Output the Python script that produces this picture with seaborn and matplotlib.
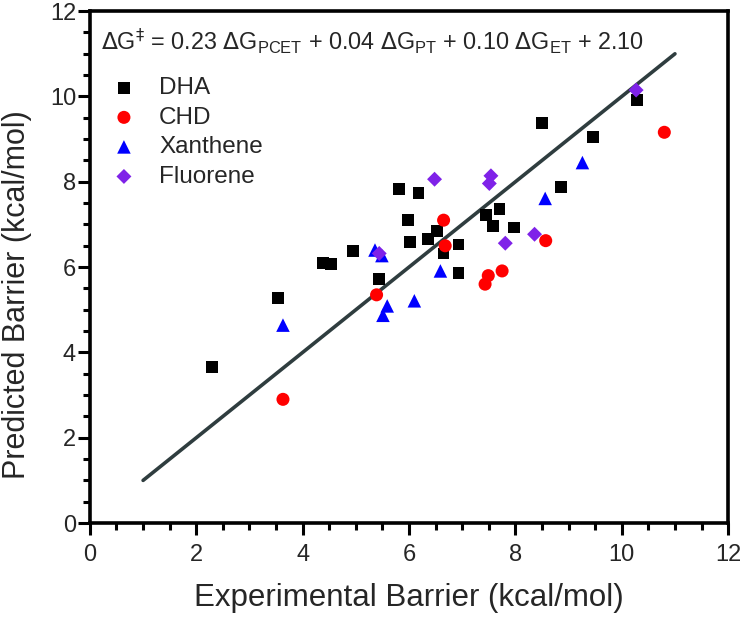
import pandas as pd
import matplotlib
matplotlib.use("Agg")
import matplotlib.pyplot as plt
import seaborn as sns
from matplotlib.ticker import MultipleLocator

sns.set_theme(style="ticks")
plt.rcParams['font.family'] = ['Liberation Sans', 'DejaVu Sans']

# experimental vs predicted barriers (kcal/mol)
dha_exp = [2.30, 3.53, 4.38, 4.53, 4.94, 5.44, 5.81, 5.98, 6.02, 6.18, 6.35, 6.53,
           6.65, 6.93, 6.93, 7.45, 7.58, 7.70, 7.98, 8.50, 8.86, 9.46, 10.29]
dha_pred = [3.65, 5.27, 6.10, 6.07, 6.38, 5.73, 7.83, 7.10, 6.59, 7.73, 6.66, 6.84,
            6.32, 6.53, 5.87, 7.23, 6.96, 7.37, 6.93, 9.37, 7.88, 9.05, 9.91]
chd_exp = [3.63, 5.39, 6.65, 6.68, 7.43, 7.49, 7.75, 8.57, 10.80]
chd_pred = [2.90, 5.35, 7.10, 6.50, 5.60, 5.80, 5.91, 6.62, 9.16]
xan_exp = [3.63, 5.36, 5.49, 5.51, 5.59, 6.10, 6.59, 8.56, 9.26]
xan_pred = [4.64, 6.40, 6.27, 4.87, 5.09, 5.21, 5.91, 7.61, 8.45]
flu_exp = [5.44, 6.48, 7.51, 7.54, 7.81, 8.36, 10.27]
flu_pred = [6.32, 8.06, 7.96, 8.14, 6.56, 6.77, 10.15]

fit_x = [1, 11]
fit_y = [1, 11]

groups = {"DHA": (dha_exp, dha_pred), "CHD": (chd_exp, chd_pred),
          "Xanthene": (xan_exp, xan_pred), "Fluorene": (flu_exp, flu_pred)}
frames = [pd.DataFrame({"exp": x, "pred": y, "Substrate": name})
          for name, (x, y) in groups.items()]
df = pd.concat(frames, ignore_index=True)

palette = {"DHA": "#000000", "CHD": "#FF0000", "Xanthene": "#0000FF", "Fluorene": "#7F22E8"}
markers = {"DHA": "s", "CHD": "o", "Xanthene": "^", "Fluorene": "D"}
sizes = {"DHA": 72, "CHD": 88, "Xanthene": 95, "Fluorene": 58}

fig = plt.figure(figsize=(7.43, 6.19), dpi=100)
ax = fig.add_axes([0.121, 0.155, 0.859, 0.827])

ax.plot(fit_x, fit_y, color="#2F3D3F", linewidth=2.6, zorder=1)

for name in groups:
    sub = df[df["Substrate"] == name]
    sns.scatterplot(data=sub, x="exp", y="pred", color=palette[name], marker=markers[name],
                    s=sizes[name], edgecolor="none", label=name, ax=ax, zorder=3)

ax.set_xlim(0, 12)
ax.set_ylim(0, 12)
ax.xaxis.set_major_locator(MultipleLocator(2))
ax.xaxis.set_minor_locator(MultipleLocator(0.5))
ax.yaxis.set_major_locator(MultipleLocator(2))
ax.yaxis.set_minor_locator(MultipleLocator(0.5))
ax.tick_params(which="major", direction="out", length=8.5, width=2.2, labelsize=17, color="black")
ax.tick_params(which="minor", direction="out", length=5, width=2.2, color="black")
ax.tick_params(axis="x", which="major", pad=6.5)
ax.tick_params(axis="y", which="major", pad=1.5)
for sp in ax.spines.values():
    sp.set_linewidth(2.6)
    sp.set_color("black")

ax.set_xlabel("Experimental Barrier (kcal/mol)", fontsize=22.5)
ax.set_ylabel("Predicted Barrier (kcal/mol)", fontsize=22)
ax.xaxis.set_label_coords(0.5, -0.118)
ax.yaxis.set_label_coords(-0.091, 0.447)

ax.text(0.017, 0.94,
        r"$\Delta$G$^{\ddagger}$ = 0.23 $\Delta$G$_{\mathregular{PCET}}$ + 0.04 $\Delta$G$_{\mathregular{PT}}$"
        r" + 0.10 $\Delta$G$_{\mathregular{ET}}$ + 2.10",
        transform=ax.transAxes, fontsize=16.8, va="center", ha="left")

ax.legend(loc="upper left", bbox_to_anchor=(0.0, 0.89), frameon=False, fontsize=17.5,
          handletextpad=0.45, labelspacing=0.31, borderaxespad=0)

fig.savefig("out.png", dpi=100)
